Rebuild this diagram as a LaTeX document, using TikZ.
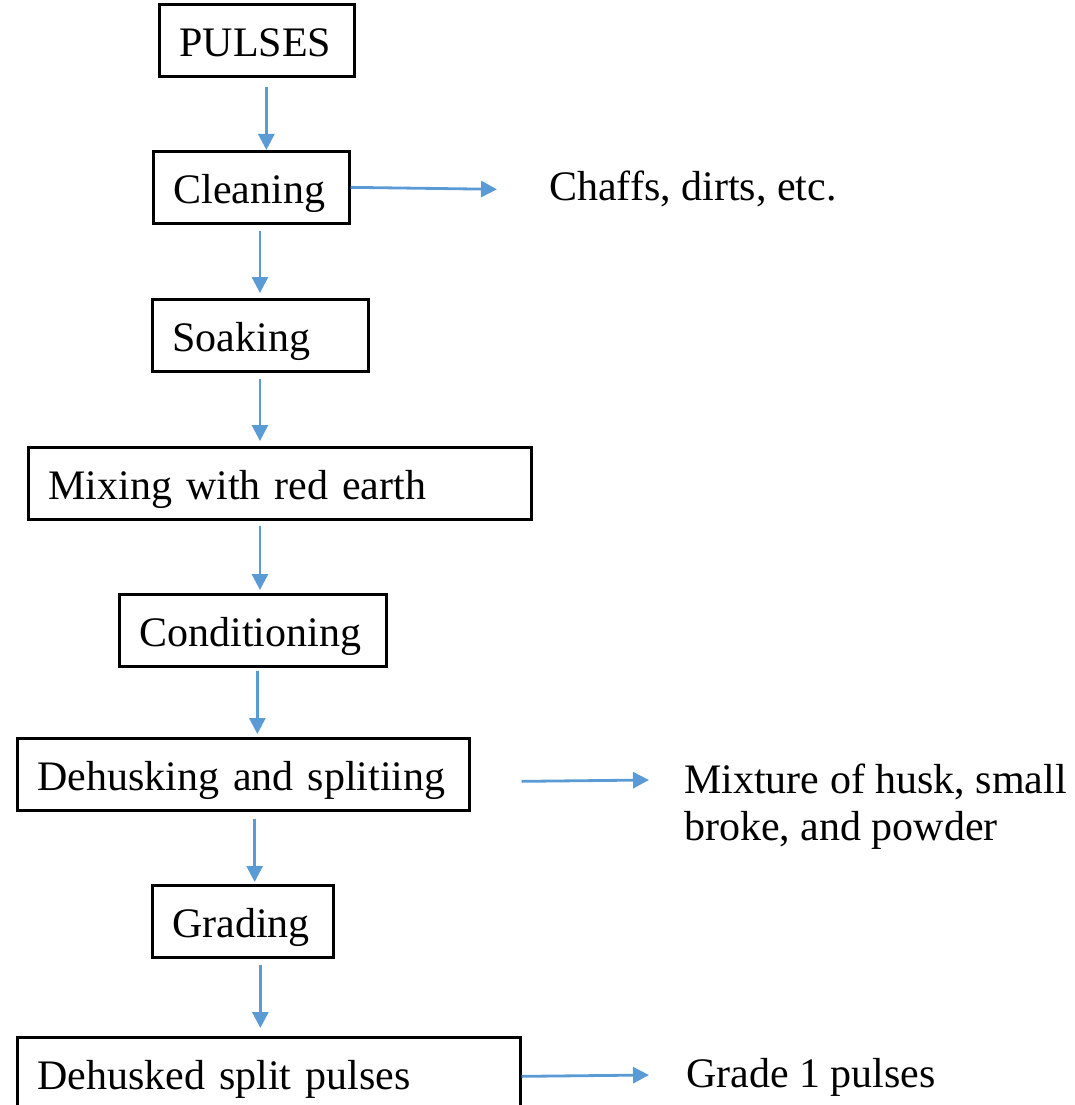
\documentclass[tikz,border=0pt]{standalone}
\usepackage{fontspec}
\setmainfont{Liberation Serif}
\usetikzlibrary{arrows.meta}
\definecolor{flowblue}{RGB}{91,155,213}
\begin{document}
\begin{tikzpicture}[x=1pt,y=-1pt,
  every node/.style={font=\fontsize{42pt}{47pt}\selectfont},
  box/.style={draw, line width=2.7pt, inner xsep=20pt, inner ysep=0pt, text height=32pt, text depth=0pt, minimum height=72pt, align=left, anchor=north west},
  lbl/.style={inner sep=0pt, text height=32pt, text depth=0pt, anchor=base west},
  flow/.style={draw=flowblue, line width=2.8pt, -{Triangle[length=16pt,width=16pt]}}]
\useasboundingbox (0,0) rectangle (1075,1105);

\node[box, text width=155pt] (pulses) at (158,3) {\mbox{PULSES}};
\node[box, text width=156pt] (clean) at (152,150) {\mbox{Cleaning}};
\node[box, text width=176pt] (soak) at (151,298) {\mbox{Soaking}};
\node[box, text width=463pt] (mix) at (27,446) {\mbox{Mixing with red earth}};
\node[box, text width=227pt] (cond) at (118,593) {\mbox{Conditioning}};
\node[box, text width=412pt] (dehusk) at (16,737) {\mbox{Dehusking and splitiing}};
\node[box, text width=141pt] (grade) at (151,884) {\mbox{Grading}};
\node[box, text width=463pt] (split) at (16,1036) {\mbox{Dehusked split pulses}};

\node[lbl] (chaffs) at (549,200) {Chaffs, dirts, etc.};
\node[inner sep=0pt, align=left, anchor=north west] (mixture) at (684,761)
  {\rule{0pt}{32pt}Mixture of husk, small\\broke, and powder};
\node[lbl] (grade1) at (686,1087) {Grade 1 pulses};

\draw[flow] ([shift={(9.5,9)}]pulses.south) -- ([shift={(15,0)}]clean.north);
\draw[flow] ([shift={(8.6,6)}]clean.south) -- ([shift={(-0.4,-5)}]soak.north);
\draw[flow] ([shift={(-0.4,6)}]soak.south) -- ([shift={(-19.9,-5)}]mix.north);
\draw[flow] ([shift={(-19.9,5)}]mix.south) -- ([shift={(7.1,-3)}]cond.north);
\draw[flow] ([shift={(4.5,3)}]cond.south) -- ([shift={(14,-3)}]dehusk.north);
\draw[flow] ([shift={(11.3,7)}]dehusk.south) -- ([shift={(11.8,-2)}]grade.north);
\draw[flow] ([shift={(17.5,6)}]grade.south) -- ([shift={(-8.5,-8)}]split.north);

\draw[flow] (clean.east) -- ([shift={(-52,5.3)}]chaffs.west);
\draw[flow] ([shift={(51,7)}]dehusk.east) -- ([shift={(-35,19)}]mixture.north west);
\draw[flow] ([shift={(0,3)}]split.east) -- ([shift={(-37,4)}]grade1.west);
\end{tikzpicture}
\end{document}
